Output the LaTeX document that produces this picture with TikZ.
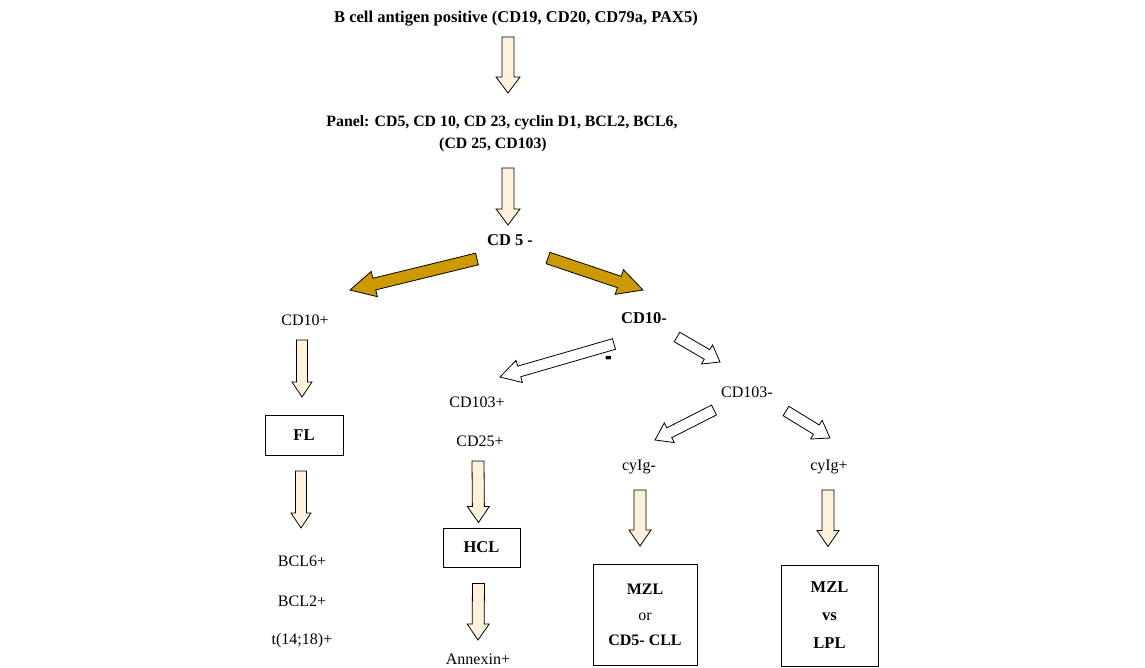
\documentclass[tikz,border=0pt]{standalone}
\usepackage{fontspec}
\setmainfont{Liberation Serif}
\usepackage{xcolor}
\usetikzlibrary{calc}
\definecolor{cream}{RGB}{255,242,220}
\definecolor{gold}{RGB}{204,153,0}
% block arrow: [fill] tail, tip, shaft half width, head half width, head length
\newcommand{\blockarrow}[6][cream]{%
  \coordinate (ba-t) at (#2);
  \coordinate (ba-h) at (#3);
  \coordinate (ba-b) at ($(ba-h)!#6!(ba-t)$);
  \draw[arrowbody, fill=#1]
    ($(ba-t)!#4!90:(ba-h)$) -- ($(ba-b)!#4!90:(ba-h)$) -- ($(ba-b)!#5!90:(ba-h)$)
    -- (ba-h) -- ($(ba-b)!#5!-90:(ba-h)$) -- ($(ba-b)!#4!-90:(ba-h)$)
    -- ($(ba-t)!#4!-90:(ba-h)$) -- cycle;
}
\tikzset{
  txt/.style={inner sep=1pt, font=\fontsize{16}{19}\selectfont},
  txtb/.style={inner sep=1pt, font=\fontsize{16.5}{19}\selectfont\bfseries},
  box/.style={draw, line width=1pt, minimum width=78pt, minimum height=40pt},
  arrowbody/.style={draw=black, line width=0.8pt, line join=miter},
}

\begin{document}
\begin{tikzpicture}[x=1pt,y=-1pt]
\useasboundingbox (0,0) rectangle (1145,667);
\node[txtb] (title) at (516,19) {B cell antigen positive (CD19, CD20, CD79a, PAX5)};
\node[txtb, align=center, font=\fontsize{15.8}{22}\selectfont\bfseries] (panel) at (502,134)
  {Panel: CD5, CD 10, CD 23, cyclin D1, BCL2, BCL6,\\(CD 25, CD103)\hspace*{18pt}};
\node[txtb] (cdfive) at (510,240) {CD 5 -};
\node[txt] (cdtenpos) at (305,320) {CD10+};
\node[txtb] (cdtenneg) at (644,318) {CD10-};
\node[txtb, font=\fontsize{20}{20}\selectfont\bfseries] (dash) at (609,362) {\scalebox{1}[2]{-}};
\node[txt] (cdonethreepos) at (477,402) {CD103+};
\node[txt] (cdtwofive) at (480,441) {CD25+};
\node[txt] (cdonethreeneg) at (747,392) {CD103-};
\node[box, txtb] (fl) at (304,435) {FL};
\node[txt] (bclsix) at (302,561) {BCL6+};
\node[txt] (bcltwo) at (302,601) {BCL2+};
\node[txt] (translo) at (302,641) {t(14;18)+};
\node[box, txtb, minimum width=77pt, minimum height=39pt] (hcl) at (481.5,547.5) {HCL};
\node[txt] (annexin) at (478,659) {Annexin+};
\node[txt] (cyigneg) at (639,467) {cyIg-};
\node[txt] (cyigpos) at (829,467) {cyIg+};
\node[box, txt, align=center, minimum width=104pt, minimum height=101pt,
  font=\fontsize{16}{25.5}\selectfont] (mzlcll) at (645,615)
  {\textbf{MZL}\\or\\\textbf{CD5- CLL}};
\node[box, txtb, align=center, minimum width=97pt, minimum height=101pt,
  font=\fontsize{16.5}{28}\selectfont\bfseries] (mzllpl) at (829.5,615.5)
  {MZL\\vs\\LPL};

% vertical arrows
\blockarrow{$(title)+(-8,18)$}{$(panel)+(6,-41)$}{6pt}{12pt}{16pt}
\blockarrow{$(panel)+(6,34)$}{$(cdfive)+(-2,-15)$}{6pt}{12pt}{16pt}
\blockarrow{$(cdtenpos)+(-3,20)$}{$(fl)+(-2,-38)$}{5.5pt}{10pt}{15pt}
\blockarrow{$(fl)+(-3,36)$}{$(bclsix)+(-1,-33)$}{5.5pt}{10pt}{15pt}
\blockarrow{$(cdtwofive)+(-2,20)$}{$(hcl)+(-3,-25)$}{6pt}{11pt}{16pt}
\blockarrow{$(hcl)+(-3,36)$}{$(annexin)+(0,-19)$}{6pt}{11pt}{16pt}
\blockarrow{$(cyigneg)+(1,23)$}{$(mzlcll.north)+(-5,-18)$}{6pt}{11pt}{16pt}
\blockarrow{$(cyigpos)+(-1,23)$}{$(mzllpl.north)+(-1.5,-18)$}{6pt}{11pt}{16pt}
% CD5- split
\blockarrow[gold]{$(cdfive)+(-33,19)$}{$(cdtenpos)+(45,-30)$}{6pt}{13pt}{25pt}
\blockarrow[gold]{$(cdfive)+(38,18)$}{$(cdtenneg)+(-1,-28)$}{6pt}{13pt}{25pt}
% CD10- and CD103- splits
\blockarrow[white]{$(cdtenneg)+(-30,26)$}{$(cdonethreepos)+(23,-25)$}{5.5pt}{11.5pt}{20pt}
\blockarrow[white]{$(cdtenneg)+(33,19)$}{$(cdonethreeneg)+(-27,-30)$}{5.5pt}{11pt}{15pt}
\blockarrow[white]{$(cdonethreeneg)+(-33,18)$}{$(cyigneg)+(16,-27)$}{5.5pt}{11pt}{16pt}
\blockarrow[white]{$(cdonethreeneg)+(39,19)$}{$(cyigpos)+(1,-29)$}{5.5pt}{11pt}{16pt}
\end{tikzpicture}
\end{document}
